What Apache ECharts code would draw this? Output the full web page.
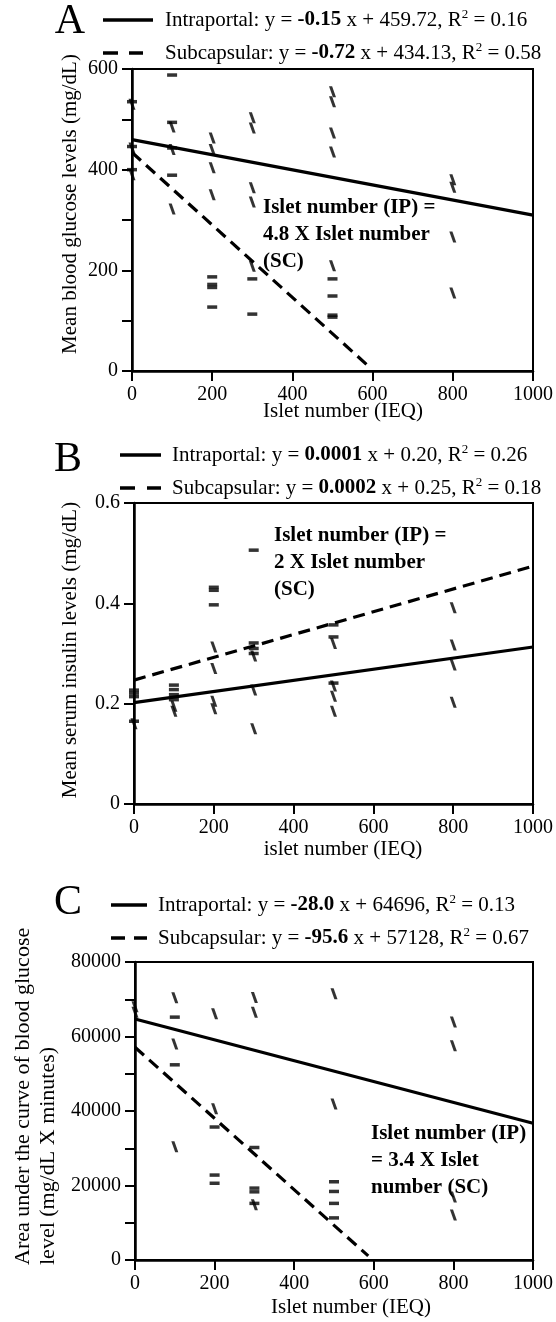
<!DOCTYPE html>
<html>
<head>
<meta charset="utf-8">
<script src="https://cdn.jsdelivr.net/npm/echarts@6/dist/echarts.min.js"></script>
<style>
html,body{margin:0;padding:0;background:#fff;}
#c{width:556px;height:1322px;}
</style>
</head>
<body>
<div id="c"></div>
<script>
// ---------- DATA ----------
const xTicksMax = 1000;
// Panel A: mean blood glucose (mg/dL)
const aFlat = [[0,535],[0,446],[0,400],[100,588],[100,494],[100,443],[100,389],[200,187],[200,172],[200,166],[200,127],[300,183],[300,113],[500,183],[500,149],[500,111],[500,107]];
const aTilt = [[0,530],[0,443],[0,390],[100,485],[100,440],[100,322],[200,463],[200,440],[200,404],[200,350],[300,503],[300,483],[300,364],[300,336],[300,208],[500,555],[500,535],[500,473],[500,435],[500,209],[800,380],[800,365],[800,266],[800,155]];
const aIntraLine = [[0,459.72],[1000,309.72]];
const aSubLine = [[0,434.13],[585,13]];
// Panel B: mean serum insulin
const bFlat = [[0,0.227],[0,0.221],[0,0.214],[0,0.165],[100,0.237],[100,0.228],[100,0.218],[100,0.208],[200,0.432],[200,0.426],[200,0.397],[300,0.506],[300,0.321],[300,0.31],[300,0.30],[500,0.357],[500,0.333],[500,0.241]];
const bTilt = [[0,0.16],[100,0.195],[100,0.185],[200,0.313],[200,0.27],[200,0.205],[200,0.19],[300,0.295],[300,0.227],[300,0.15],[500,0.32],[500,0.235],[500,0.215],[500,0.185],[800,0.391],[800,0.317],[800,0.277],[800,0.203]];
const bIntraLine = [[0,0.202],[1000,0.313]];
const bSubLine = [[0,0.247],[1000,0.474]];
// Panel C: AUC blood glucose
const cFlat = [[100,65200],[100,52400],[200,35700],[200,22800],[200,20600],[300,30200],[300,19300],[300,18300],[300,15200],[500,21000],[500,18400],[500,15200],[500,11300]];
const cTilt = [[0,68000],[0,66500],[100,70400],[100,58000],[100,30400],[200,66100],[200,40600],[300,70500],[300,66500],[300,14800],[500,71500],[500,41900],[800,63900],[800,57500],[800,16900],[800,12100]];
const cIntraLine = [[0,64696],[1000,36696]];
const cSubLine = [[0,57128],[586,1100]];

const legendA = ['-0.15','459.72','0.16','-0.72','434.13','0.58'];
const legendB = ['0.0001','0.20','0.26','0.0002','0.25','0.18'];
const legendC = ['-28.0','64696','0.13','-95.6','57128','0.67'];

// ---------- STYLE ----------
const FF = 'Liberation Serif';
const FS = 20;   // tick labels
const TS = 21;   // titles / legend / notes
const tiltSym = 'path://M0,0 L4,0 L9,12 L5,12 Z';

function yAxis(gi, max, interval, labelStep, fmt){
  return {
    type:'value', gridIndex:gi, min:0, max:max, interval:interval,
    axisLine:{show:true, onZero:false, lineStyle:{color:'#000', width:2.5}},
    axisTick:{show:true, inside:false, length:10, lineStyle:{color:'#000', width:2}},
    axisLabel:{color:'#000', fontFamily:FF, fontSize:FS, margin:14,
      formatter:function(v){ const r=Math.round(v/labelStep*1000)/1000; return Math.abs(r-Math.round(r))<1e-6 ? fmt(v) : ''; }},
    splitLine:{show:false}
  };
}
function xAxis(gi){
  return {
    type:'value', gridIndex:gi, min:0, max:xTicksMax, interval:200,
    axisLine:{show:true, onZero:false, lineStyle:{color:'#000', width:2.5}},
    axisTick:{show:true, length:10, lineStyle:{color:'#000', width:2}},
    axisLabel:{color:'#000', fontFamily:FF, fontSize:FS, margin:14, formatter:v=>String(v)},
    splitLine:{show:false}
  };
}
function scatter(gi, data, tilt){
  return {
    type:'scatter', xAxisIndex:gi, yAxisIndex:gi, data:data,
    symbol: tilt ? tiltSym : 'rect',
    symbolSize: tilt ? [7,11] : [10,3.5],
    itemStyle:{color:'#000'}, silent:true, z:3
  };
}
function line(gi, data, dashed){
  return {
    type:'line', xAxisIndex:gi, yAxisIndex:gi, data:data, symbol:'none',
    lineStyle:{color:'#000', width:3.2, type: dashed ? [12,7] : 'solid'},
    silent:true, z:4, animation:false
  };
}

function legendText(x, y, name, v){
  return {type:'text', style:{x:x, y:y, textVerticalAlign:'middle', fill:'#000',
    text:'{n|'+name+': y = }{b|'+v[0]+'}{n| x + '+v[1]+', R}{s|2}{n| = '+v[2]+'}',
    rich:{
      n:{fontFamily:FF, fontSize:TS, lineHeight:24, verticalAlign:'middle', fill:'#000'},
      b:{fontFamily:FF, fontSize:TS, fontWeight:'bold', lineHeight:24, verticalAlign:'middle', fill:'#000'},
      s:{fontFamily:FF, fontSize:13, lineHeight:24, verticalAlign:'top', fill:'#000'}
    }}};
}
function hseg(x1, x2, y){
  return {type:'line', shape:{x1:x1, y1:y, x2:x2, y2:y}, style:{stroke:'#000', lineWidth:3.5}};
}
function legendBlock(letter, lx, ly, x0, xText, y1, y2, v, dashSegs, solidEnd){
  return [
    {type:'text', style:{x:lx, y:ly, text:letter, font:'42px "'+FF+'"', fill:'#000', textAlign:'center', textVerticalAlign:'middle'}},
    hseg(x0, solidEnd, y1),
    hseg(dashSegs[0], dashSegs[1], y2),
    hseg(dashSegs[2], dashSegs[3], y2),
    legendText(xText, y1, 'Intraportal', [v[0],v[1],v[2]]),
    legendText(xText, y2, 'Subcapsular', [v[3],v[4],v[5]])
  ];
}
function boldNote(x, y, txt){
  return {type:'text', style:{x:x, y:y, text:txt, font:'bold '+TS+'px "'+FF+'"', fill:'#000', lineHeight:27, textVerticalAlign:'top'}};
}
function vText(x, y, txt, align, size){
  return {type:'text', x:x, y:y, rotation:Math.PI/2,
    style:{x:0, y:0, text:txt, font:(size||TS)+'px "'+FF+'"', fill:'#000', textAlign:align, textVerticalAlign:'middle'}};
}
function hText(x, y, txt){
  return {type:'text', style:{x:x, y:y, text:txt, font:TS+'px "'+FF+'"', fill:'#000', textAlign:'center', textVerticalAlign:'middle'}};
}

const chart = echarts.init(document.getElementById('c'), null, {renderer:'canvas'});
const option = {
  animation:false,
  backgroundColor:'#fff',
  grid:[
    {left:132, top:69, width:402, height:302, show:true, borderColor:'#000', borderWidth:2, backgroundColor:'transparent'},
    {left:134, top:503, width:400, height:301, show:true, borderColor:'#000', borderWidth:2, backgroundColor:'transparent'},
    {left:135, top:962, width:398, height:298, show:true, borderColor:'#000', borderWidth:2, backgroundColor:'transparent'}
  ],
  xAxis:[xAxis(0), xAxis(1), xAxis(2)],
  yAxis:[
    yAxis(0, 600, 100, 200, v=>String(v)),
    yAxis(1, 0.6, 0.2, 0.2, v=>String(Math.round(v*10)/10)),
    yAxis(2, 80000, 10000, 20000, v=>String(v))
  ],
  series:[
    scatter(0, aFlat, false), scatter(0, aTilt, true), line(0, aIntraLine, false), line(0, aSubLine, true),
    scatter(1, bFlat, false), scatter(1, bTilt, true), line(1, bIntraLine, false), line(1, bSubLine, true),
    scatter(2, cFlat, false), scatter(2, cTilt, true), line(2, cIntraLine, false), line(2, cSubLine, true)
  ],
  graphic:[].concat(
    legendBlock('A', 70, 22, 103, 165, 20, 53, legendA, [103,118,129,143], 153),
    legendBlock('B', 68, 460, 120, 172, 455, 488, legendB, [120,135,147,161], 161),
    legendBlock('C', 68, 903, 111, 158, 905, 938, legendC, [111,125,134,147], 147),
    [
      boldNote(263, 194, 'Islet number (IP) =\n4.8 X Islet number\n(SC)'),
      boldNote(274, 522, 'Islet number (IP) =\n2 X Islet number\n(SC)'),
      boldNote(371, 1120, 'Islet number (IP)\n= 3.4 X Islet\nnumber (SC)'),
      vText(70, 204, 'Mean blood glucose levels (mg/dL)', 'center'),
      vText(70, 650, 'Mean serum insulin levels (mg/dL)', 'center'),
      vText(23, 1265, 'Area under the curve of blood glucose', 'left', 22),
      vText(48, 1265, 'level (mg/dL X minutes)', 'left', 22),
      hText(343, 411, 'Islet number (IEQ)'),
      hText(343, 849, 'islet number (IEQ)'),
      hText(351, 1307, 'Islet number (IEQ)')
    ]
  )
};
chart.setOption(option);
</script>
</body>
</html>
